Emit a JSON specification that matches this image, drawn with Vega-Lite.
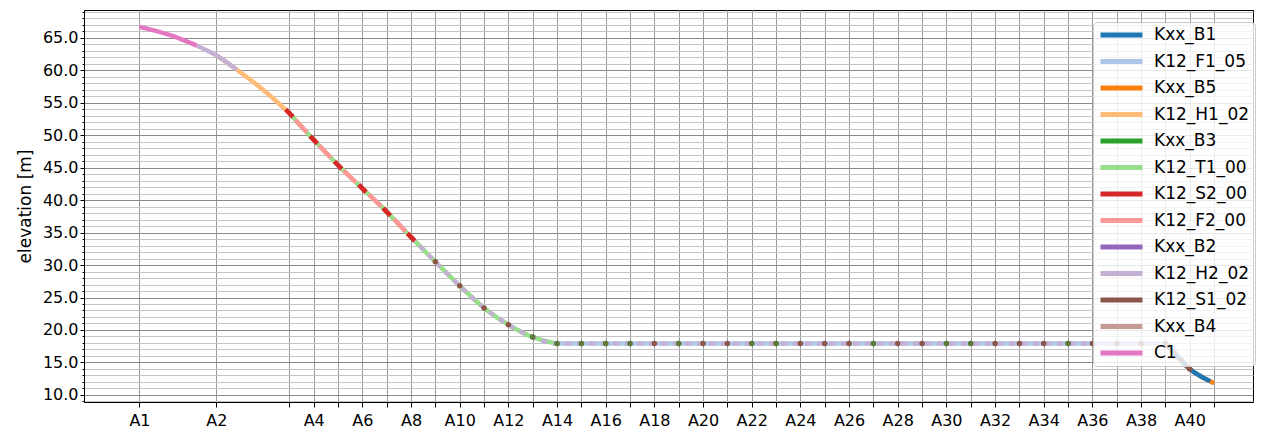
{
  "$schema": "https://vega.github.io/schema/vega-lite/v6.json",
  "width": 1169,
  "height": 392,
  "autosize": {"type": "none"},
  "padding": {"left": 84, "top": 10, "right": 13, "bottom": 30},
  "background": "white",
  "config": {
    "font": "DejaVu Sans",
    "view": {"stroke": "black", "strokeWidth": 1},
    "axis": {"domainColor": "black", "tickColor": "black", "labelColor": "black", "titleColor": "black", "labelFont": "DejaVu Sans", "titleFont": "DejaVu Sans", "titleFontWeight": "normal"}
  },
  "data": {
    "values": [
      {"series": "K12_H1_02", "part": "a", "dist": 79, "elev": 62.3},
      {"series": "K12_H1_02", "part": "a", "dist": 100, "elev": 60.1},
      {"series": "K12_H1_02", "part": "a", "dist": 127, "elev": 57.0},
      {"series": "K12_H1_02", "part": "a", "dist": 154, "elev": 53.4},
      {"series": "K12_H2_02", "part": "a", "dist": 59, "elev": 63.8},
      {"series": "K12_H2_02", "part": "a", "dist": 79, "elev": 62.3},
      {"series": "K12_H2_02", "part": "a", "dist": 100, "elev": 60.1},
      {"series": "C1", "part": "a", "dist": 0, "elev": 66.7},
      {"series": "C1", "part": "a", "dist": 30, "elev": 65.5},
      {"series": "C1", "part": "a", "dist": 59, "elev": 63.8},
      {"series": "K12_T1_00", "part": "a", "dist": 154, "elev": 53.4},
      {"series": "K12_T1_00", "part": "a", "dist": 179, "elev": 49.3},
      {"series": "K12_T1_00", "part": "a", "dist": 204, "elev": 45.4},
      {"series": "K12_T1_00", "part": "a", "dist": 229, "elev": 41.8},
      {"series": "K12_T1_00", "part": "a", "dist": 254, "elev": 38.2},
      {"series": "K12_T1_00", "part": "a", "dist": 279, "elev": 34.3},
      {"series": "K12_T1_00", "part": "a", "dist": 304, "elev": 30.5},
      {"series": "K12_T1_00", "part": "a", "dist": 329, "elev": 26.8},
      {"series": "K12_T1_00", "part": "a", "dist": 354, "elev": 23.4},
      {"series": "K12_T1_00", "part": "a", "dist": 379, "elev": 20.8},
      {"series": "K12_T1_00", "part": "a", "dist": 404, "elev": 18.9},
      {"series": "K12_T1_00", "part": "a", "dist": 429, "elev": 17.9},
      {"series": "K12_F2_00", "part": "a", "dist": 154, "elev": 53.4},
      {"series": "K12_F2_00", "part": "a", "dist": 179, "elev": 49.3},
      {"series": "K12_F2_00", "part": "a", "dist": 204, "elev": 45.4},
      {"series": "K12_F2_00", "part": "a", "dist": 229, "elev": 41.8},
      {"series": "K12_F2_00", "part": "a", "dist": 254, "elev": 38.2},
      {"series": "K12_F2_00", "part": "a", "dist": 279, "elev": 34.3},
      {"series": "K12_S2_00", "part": "a", "dist": 154, "elev": 53.4},
      {"series": "K12_S2_00", "part": "a", "dist": 179, "elev": 49.3},
      {"series": "K12_S2_00", "part": "a", "dist": 204, "elev": 45.4},
      {"series": "K12_S2_00", "part": "a", "dist": 229, "elev": 41.8},
      {"series": "K12_S2_00", "part": "a", "dist": 254, "elev": 38.2},
      {"series": "K12_S2_00", "part": "a", "dist": 279, "elev": 34.3},
      {"series": "K12_F1_05", "part": "a", "dist": 429, "elev": 17.9},
      {"series": "K12_F1_05", "part": "a", "dist": 454, "elev": 17.9},
      {"series": "K12_F1_05", "part": "a", "dist": 479, "elev": 17.9},
      {"series": "K12_F1_05", "part": "a", "dist": 504, "elev": 17.9},
      {"series": "K12_F1_05", "part": "a", "dist": 529, "elev": 17.9},
      {"series": "K12_F1_05", "part": "a", "dist": 554, "elev": 17.9},
      {"series": "K12_F1_05", "part": "a", "dist": 579, "elev": 17.9},
      {"series": "K12_F1_05", "part": "a", "dist": 604, "elev": 17.9},
      {"series": "K12_F1_05", "part": "a", "dist": 629, "elev": 17.9},
      {"series": "K12_F1_05", "part": "a", "dist": 654, "elev": 17.9},
      {"series": "K12_F1_05", "part": "a", "dist": 679, "elev": 17.9},
      {"series": "K12_F1_05", "part": "a", "dist": 704, "elev": 17.9},
      {"series": "K12_F1_05", "part": "a", "dist": 729, "elev": 17.9},
      {"series": "K12_F1_05", "part": "a", "dist": 754, "elev": 17.9},
      {"series": "K12_F1_05", "part": "a", "dist": 779, "elev": 17.9},
      {"series": "K12_F1_05", "part": "a", "dist": 804, "elev": 17.9},
      {"series": "K12_F1_05", "part": "a", "dist": 829, "elev": 17.9},
      {"series": "K12_F1_05", "part": "a", "dist": 854, "elev": 17.9},
      {"series": "K12_F1_05", "part": "a", "dist": 879, "elev": 17.9},
      {"series": "K12_F1_05", "part": "a", "dist": 904, "elev": 17.9},
      {"series": "K12_F1_05", "part": "a", "dist": 929, "elev": 17.9},
      {"series": "K12_F1_05", "part": "a", "dist": 954, "elev": 17.9},
      {"series": "K12_F1_05", "part": "a", "dist": 979, "elev": 17.9},
      {"series": "K12_F1_05", "part": "a", "dist": 1004, "elev": 17.9},
      {"series": "K12_F1_05", "part": "a", "dist": 1029, "elev": 17.9},
      {"series": "K12_F1_05", "part": "a", "dist": 1054, "elev": 17.9},
      {"series": "K12_F1_05", "part": "a", "dist": 1079, "elev": 14.0},
      {"series": "K12_F1_05", "part": "a", "dist": 1104, "elev": 11.8},
      {"series": "K12_H2_02", "part": "b", "dist": 279, "elev": 34.3},
      {"series": "K12_H2_02", "part": "b", "dist": 304, "elev": 30.5},
      {"series": "K12_H2_02", "part": "b", "dist": 329, "elev": 26.8},
      {"series": "K12_H2_02", "part": "b", "dist": 354, "elev": 23.4},
      {"series": "K12_H2_02", "part": "b", "dist": 379, "elev": 20.8},
      {"series": "K12_H2_02", "part": "b", "dist": 404, "elev": 18.9},
      {"series": "K12_H2_02", "part": "b", "dist": 429, "elev": 17.9},
      {"series": "K12_H2_02", "part": "b", "dist": 454, "elev": 17.9},
      {"series": "K12_H2_02", "part": "b", "dist": 479, "elev": 17.9},
      {"series": "K12_H2_02", "part": "b", "dist": 504, "elev": 17.9},
      {"series": "K12_H2_02", "part": "b", "dist": 529, "elev": 17.9},
      {"series": "K12_H2_02", "part": "b", "dist": 554, "elev": 17.9},
      {"series": "K12_H2_02", "part": "b", "dist": 579, "elev": 17.9},
      {"series": "K12_H2_02", "part": "b", "dist": 604, "elev": 17.9},
      {"series": "K12_H2_02", "part": "b", "dist": 629, "elev": 17.9},
      {"series": "K12_H2_02", "part": "b", "dist": 654, "elev": 17.9},
      {"series": "K12_H2_02", "part": "b", "dist": 679, "elev": 17.9},
      {"series": "K12_H2_02", "part": "b", "dist": 704, "elev": 17.9},
      {"series": "K12_H2_02", "part": "b", "dist": 729, "elev": 17.9},
      {"series": "K12_H2_02", "part": "b", "dist": 754, "elev": 17.9},
      {"series": "K12_H2_02", "part": "b", "dist": 779, "elev": 17.9},
      {"series": "K12_H2_02", "part": "b", "dist": 804, "elev": 17.9},
      {"series": "K12_H2_02", "part": "b", "dist": 829, "elev": 17.9},
      {"series": "K12_H2_02", "part": "b", "dist": 854, "elev": 17.9},
      {"series": "K12_H2_02", "part": "b", "dist": 879, "elev": 17.9},
      {"series": "K12_H2_02", "part": "b", "dist": 904, "elev": 17.9},
      {"series": "K12_H2_02", "part": "b", "dist": 929, "elev": 17.9},
      {"series": "K12_H2_02", "part": "b", "dist": 954, "elev": 17.9},
      {"series": "K12_H2_02", "part": "b", "dist": 979, "elev": 17.9},
      {"series": "K12_H2_02", "part": "b", "dist": 1004, "elev": 17.9},
      {"series": "K12_H2_02", "part": "b", "dist": 1029, "elev": 17.9},
      {"series": "K12_H2_02", "part": "b", "dist": 1054, "elev": 17.9},
      {"series": "Kxx_B5", "part": "a", "dist": 1054, "elev": 17.9},
      {"series": "Kxx_B5", "part": "a", "dist": 1079, "elev": 14.0},
      {"series": "Kxx_B5", "part": "a", "dist": 1104, "elev": 11.8},
      {"series": "Kxx_B1", "part": "a", "dist": 1054, "elev": 17.9},
      {"series": "Kxx_B1", "part": "a", "dist": 1079, "elev": 14.0},
      {"series": "Kxx_B1", "part": "a", "dist": 1100, "elev": 12.1},
      {"series": "K12_S1_02", "part": "a", "dist": 304, "elev": 30.5},
      {"series": "K12_S1_02", "part": "a", "dist": 329, "elev": 26.8},
      {"series": "K12_S1_02", "part": "a", "dist": 354, "elev": 23.4},
      {"series": "K12_S1_02", "part": "a", "dist": 379, "elev": 20.8},
      {"series": "K12_S1_02", "part": "a", "dist": 404, "elev": 18.9},
      {"series": "K12_S1_02", "part": "a", "dist": 429, "elev": 17.9},
      {"series": "K12_S1_02", "part": "a", "dist": 454, "elev": 17.9},
      {"series": "K12_S1_02", "part": "a", "dist": 479, "elev": 17.9},
      {"series": "K12_S1_02", "part": "a", "dist": 504, "elev": 17.9},
      {"series": "K12_S1_02", "part": "a", "dist": 529, "elev": 17.9},
      {"series": "K12_S1_02", "part": "a", "dist": 554, "elev": 17.9},
      {"series": "K12_S1_02", "part": "a", "dist": 579, "elev": 17.9},
      {"series": "K12_S1_02", "part": "a", "dist": 604, "elev": 17.9},
      {"series": "K12_S1_02", "part": "a", "dist": 629, "elev": 17.9},
      {"series": "K12_S1_02", "part": "a", "dist": 654, "elev": 17.9},
      {"series": "K12_S1_02", "part": "a", "dist": 679, "elev": 17.9},
      {"series": "K12_S1_02", "part": "a", "dist": 704, "elev": 17.9},
      {"series": "K12_S1_02", "part": "a", "dist": 729, "elev": 17.9},
      {"series": "K12_S1_02", "part": "a", "dist": 754, "elev": 17.9},
      {"series": "K12_S1_02", "part": "a", "dist": 779, "elev": 17.9},
      {"series": "K12_S1_02", "part": "a", "dist": 804, "elev": 17.9},
      {"series": "K12_S1_02", "part": "a", "dist": 829, "elev": 17.9},
      {"series": "K12_S1_02", "part": "a", "dist": 854, "elev": 17.9},
      {"series": "K12_S1_02", "part": "a", "dist": 879, "elev": 17.9},
      {"series": "K12_S1_02", "part": "a", "dist": 904, "elev": 17.9},
      {"series": "K12_S1_02", "part": "a", "dist": 929, "elev": 17.9},
      {"series": "K12_S1_02", "part": "a", "dist": 954, "elev": 17.9},
      {"series": "K12_S1_02", "part": "a", "dist": 979, "elev": 17.9},
      {"series": "K12_S1_02", "part": "a", "dist": 1004, "elev": 17.9},
      {"series": "K12_S1_02", "part": "a", "dist": 1029, "elev": 17.9},
      {"series": "K12_S1_02", "part": "a", "dist": 1054, "elev": 17.9},
      {"series": "K12_S1_02", "part": "a", "dist": 1079, "elev": 14.0},
      {"series": "Kxx_B3", "part": "a", "dist": 404, "elev": 18.9},
      {"series": "Kxx_B3", "part": "a", "dist": 429, "elev": 17.9},
      {"series": "Kxx_B3", "part": "a", "dist": 454, "elev": 17.9},
      {"series": "Kxx_B3", "part": "a", "dist": 479, "elev": 17.9},
      {"series": "Kxx_B3", "part": "a", "dist": 504, "elev": 17.9},
      {"series": "Kxx_B3", "part": "a", "dist": 554, "elev": 17.9},
      {"series": "Kxx_B3", "part": "a", "dist": 629, "elev": 17.9},
      {"series": "Kxx_B3", "part": "a", "dist": 654, "elev": 17.9},
      {"series": "Kxx_B3", "part": "a", "dist": 754, "elev": 17.9},
      {"series": "Kxx_B3", "part": "a", "dist": 829, "elev": 17.9},
      {"series": "Kxx_B3", "part": "a", "dist": 854, "elev": 17.9},
      {"series": "Kxx_B3", "part": "a", "dist": 954, "elev": 17.9}
    ]
  },
  "encoding": {
    "x": {
      "field": "dist", "type": "quantitative",
      "scale": {"domain": [-57, 1144], "nice": false, "zero": false},
      "axis": {
        "title": null,
        "values": [0, 79, 154, 179, 204, 229, 254, 279, 304, 329, 354, 379, 404, 429, 454, 479, 504, 529, 554, 579, 604, 629, 654, 679, 704, 729, 754, 779, 804, 829, 854, 879, 904, 929, 954, 979, 1004, 1029, 1054, 1079, 1104],
        "labelExpr": "datum.value < 1 ? 'A1' : datum.value < 100 ? 'A2' : datum.value < 170 ? '' : ((round((datum.value - 179) / 25) + 4) % 2 == 0 ? 'A' + (round((datum.value - 179) / 25) + 4) : '')",
        "labelOverlap": false,
        "labelFlush": false,
        "labelFontSize": 16,
        "tickSize": 5,
        "labelPadding": 5,
        "grid": true,
        "gridColor": "#9a9a9a",
        "gridWidth": 1
      }
    },
    "y": {
      "field": "elev", "type": "quantitative",
      "scale": {"domain": [8.9, 69.3], "nice": false, "zero": false},
      "axis": {
        "title": "elevation [m]",
        "titleFontSize": 17,
        "titlePadding": 8,
        "values": [9,10,11,12,13,14,15,16,17,18,19,20,21,22,23,24,25,26,27,28,29,30,31,32,33,34,35,36,37,38,39,40,41,42,43,44,45,46,47,48,49,50,51,52,53,54,55,56,57,58,59,60,61,62,63,64,65,66,67,68,69],
        "labelExpr": "datum.value % 5 == 0 ? format(datum.value, '.1f') : ''",
        "labelOverlap": false,
        "labelFlush": false,
        "labelFontSize": 16,
        "labelPadding": 2,
        "tickSize": {"condition": {"test": "datum.value % 5 == 0", "value": 4}, "value": 2},
        "grid": true,
        "gridColor": {"condition": {"test": "datum.value % 5 == 0", "value": "#8a8a8a"}, "value": "#c4c4c4"},
        "gridWidth": 1
      }
    }
  },
  "layer": [
    {
      "transform": [{"filter": "datum.part == 'a' && datum.series != 'K12_F2_00' && datum.series != 'K12_S2_00' && datum.series != 'K12_S1_02' && datum.series != 'Kxx_B3'"}],
      "mark": {"type": "line", "strokeWidth": 4.5, "interpolate": "monotone", "strokeCap": "butt"},
      "encoding": {
        "color": {
          "field": "series", "type": "nominal",
          "scale": {
            "domain": ["Kxx_B1", "K12_F1_05", "Kxx_B5", "K12_H1_02", "Kxx_B3", "K12_T1_00", "K12_S2_00", "K12_F2_00", "Kxx_B2", "K12_H2_02", "K12_S1_02", "Kxx_B4", "C1"],
            "range": ["#1f77b4", "#aec7e8", "#ff7f0e", "#ffbb78", "#2ca02c", "#98df8a", "#d62728", "#ff9896", "#9467bd", "#c5b0d5", "#8c564b", "#c49c94", "#e377c2"]
          },
          "legend": {
            "title": null,
            "orient": "none",
            "legendX": 1009,
            "legendY": 12,
            "symbolType": "stroke",
            "symbolStrokeWidth": 5,
            "symbolSize": 1764,
            "symbolOpacity": 1,
            "clipHeight": 16,
            "labelFontSize": 17,
            "labelFont": "DejaVu Sans",
            "labelColor": "black",
            "labelOffset": 9,
            "rowPadding": 9.5,
            "padding": 5,
            "fillColor": "rgba(255,255,255,0.8)",
            "strokeColor": "#cccccc",
            "cornerRadius": 4
          }
        }
      }
    },
    {
      "transform": [{"filter": "datum.series == 'K12_F2_00'"}],
      "mark": {"type": "line", "strokeWidth": 4.5, "interpolate": "monotone", "strokeCap": "butt", "strokeDash": [17, 18], "strokeDashOffset": 26},
      "encoding": {"color": {"field": "series", "type": "nominal", "legend": null}}
    },
    {
      "transform": [{"filter": "datum.series == 'K12_H2_02' && datum.part == 'b'"}],
      "mark": {"type": "line", "strokeWidth": 4.5, "interpolate": "monotone", "strokeCap": "butt", "strokeDash": [6, 6]},
      "encoding": {"color": {"field": "series", "type": "nominal", "legend": null}}
    },
    {
      "transform": [{"filter": "datum.series == 'K12_S1_02' && datum.dist > 1050"}],
      "mark": {"type": "line", "strokeWidth": 4.5, "interpolate": "monotone", "strokeCap": "butt", "strokeDash": [5, 5]},
      "encoding": {"color": {"field": "series", "type": "nominal", "legend": null}}
    },
    {
      "transform": [{"filter": "datum.series == 'K12_S2_00'"}],
      "mark": {"type": "point", "shape": "M-1,-0.45L1,-0.45L1,0.45L-1,0.45Z", "filled": true, "size": 110, "angle": 46, "opacity": 1},
      "encoding": {"color": {"field": "series", "type": "nominal", "legend": null}}
    },
    {
      "transform": [{"filter": "datum.series == 'K12_S1_02'"}],
      "mark": {"type": "circle", "size": 30, "opacity": 1},
      "encoding": {"color": {"field": "series", "type": "nominal", "legend": null}}
    },
    {
      "transform": [{"filter": "datum.series == 'Kxx_B3'"}],
      "mark": {"type": "circle", "size": 30, "opacity": 0.5},
      "encoding": {"color": {"field": "series", "type": "nominal", "legend": null}}
    }
  ]
}
